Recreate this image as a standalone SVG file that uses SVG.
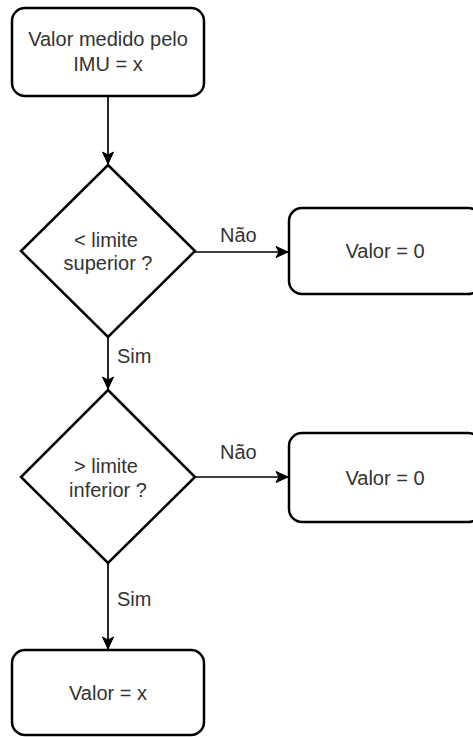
<svg xmlns="http://www.w3.org/2000/svg" width="473" height="737" viewBox="0 0 473 737">
<defs>
<style>
.box{fill:#fff;stroke:#000;stroke-width:2.5}
.t{font-family:"Liberation Sans",Arial,sans-serif;font-size:20px;fill:#333;text-anchor:middle}
.l{font-family:"Liberation Sans",Arial,sans-serif;font-size:20px;fill:#333}
.c{fill:none;stroke:#000;stroke-width:1.7}
</style>
<marker id="arr" markerUnits="userSpaceOnUse" markerWidth="14" markerHeight="14" viewBox="0 0 14 14" refX="13" refY="7" orient="auto">
<path d="M1,1.5 L13,7 L1,12.5 L4,7 Z" fill="#000" stroke="#000" stroke-width="1"/>
</marker>
</defs>
<rect width="473" height="737" fill="#fff"/>
<g id="connectors">
<path class="c" d="M108,96 L108,164" marker-end="url(#arr)"/>
<path class="c" d="M195,252 L288,252" marker-end="url(#arr)"/>
<text class="l" x="220" y="242">Não</text>
<path class="c" d="M108,337 L108,389" marker-end="url(#arr)"/>
<text class="l" x="117" y="363">Sim</text>
<path class="c" d="M195,477 L288,477" marker-end="url(#arr)"/>
<text class="l" x="220" y="459">Não</text>
<path class="c" d="M108,563 L108,649" marker-end="url(#arr)"/>
<text class="l" x="117" y="606">Sim</text>
</g>
<g id="start">
<rect class="box" x="12" y="8" width="192" height="88" rx="13"/>
<text class="t" x="108" y="46">Valor medido pelo</text>
<text class="t" x="108" y="71">IMU = x</text>
</g>
<g id="dec1">
<path class="box" d="M108,165 L195,251 L108,337 L21,251 Z"/>
<text class="t" x="106" y="247">&lt; limite</text>
<text class="t" x="108" y="270">superior ?</text>
</g>
<g id="zero1">
<rect class="box" x="289" y="208" width="192" height="86" rx="13"/>
<text class="t" x="385" y="258">Valor = 0</text>
</g>
<g id="dec2">
<path class="box" d="M108,390 L195,477 L108,563 L21,477 Z"/>
<text class="t" x="106" y="473">&gt; limite</text>
<text class="t" x="108" y="497">inferior ?</text>
</g>
<g id="zero2">
<rect class="box" x="289" y="433" width="192" height="89" rx="13"/>
<text class="t" x="385" y="485">Valor = 0</text>
</g>
<g id="end">
<rect class="box" x="12" y="650" width="192" height="85" rx="13"/>
<text class="t" x="108" y="700">Valor = x</text>
</g>
</svg>
